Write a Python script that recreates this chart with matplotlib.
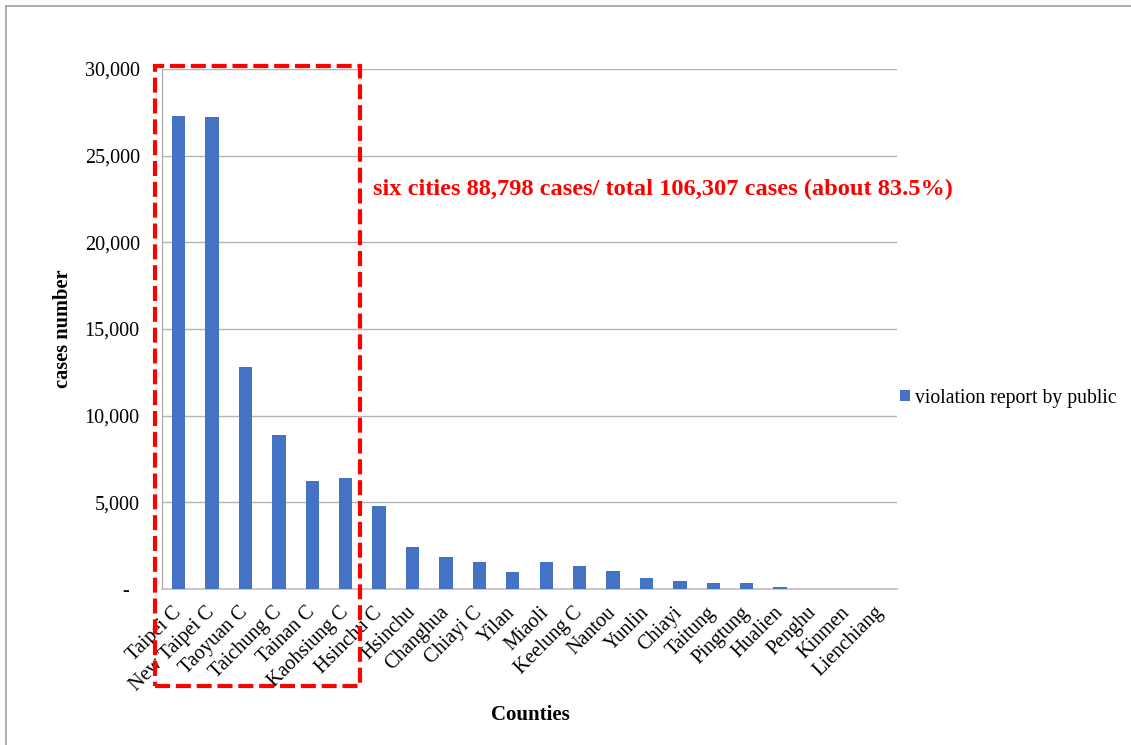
import matplotlib
matplotlib.use("Agg")
import matplotlib.pyplot as plt
from matplotlib.lines import Line2D
from matplotlib.patches import Rectangle
from matplotlib.ticker import FuncFormatter

counties = ["Taipei C", "New Taipei C", "Taoyuan C", "Taichung C", "Tainan C",
            "Kaohsiung C", "Hsinchu C", "Hsinchu", "Changhua", "Chiayi C", "Yilan",
            "Miaoli", "Keelung C", "Nantou", "Yunlin", "Chiayi", "Taitung",
            "Pingtung", "Hualien", "Penghu", "Kinmen", "Lienchiang"]
reports = [27290, 27210, 12790, 8880, 6210, 6418, 4760, 2440, 1835, 1570, 990,
           1565, 1335, 1045, 615, 480, 365, 365, 130, 8, 5, 1]
y_ticks = [0, 5000, 10000, 15000, 20000, 25000, 30000]
series_name = "violation report by public"
note = "six cities 88,798 cases/ total 106,307 cases (about 83.5%)"

plt.rcParams["font.family"] = ["Liberation Serif", "DejaVu Serif"]

W, H = 1131, 745
fig = plt.figure(figsize=(W / 100, H / 100), dpi=100)
ax = fig.add_axes([162 / W, 1 - 589 / H, (897 - 162) / W, (589 - 69) / H])

x = list(range(len(counties)))
ax.bar(x, reports, width=0.4, color="#4472C4", label=series_name, zorder=3)

ax.set_xlim(-0.5, len(counties) - 0.5)
ax.set_ylim(0, 30000)
ax.set_yticks(y_ticks)
ax.yaxis.set_major_formatter(FuncFormatter(lambda v, p: "-  " if v == 0 else f"{int(v):,}"))
ax.grid(axis="y", color="#b3b3b3", linewidth=1.0, zorder=0)
ax.tick_params(axis="y", length=0, pad=16, labelsize=14.5)
ax.tick_params(axis="x", length=0, pad=15, labelsize=14.5)
ax.set_xticks(x)
ax.set_xticklabels(counties, rotation=45, ha="right", va="center", rotation_mode="anchor")
for s in ["top", "right"]:
    ax.spines[s].set_visible(False)
ax.spines["left"].set_color("#a6a6a6")
ax.spines["bottom"].set_color("#bfbfbf")
ax.spines["bottom"].set_linewidth(1.2)

fig.text(63 / W, 1 - 329 / H, "cases number", rotation=90, ha="center", va="center",
         fontsize=14.7, fontweight="bold")
fig.text(530 / W, 1 - 715 / H, "Counties", ha="center", va="center",
         fontsize=15, fontweight="bold")

ax.text(5.82, 23050, note, color="#FF0000", fontsize=17.6, fontweight="bold",
        ha="left", va="center")

# dashed frame around the six special municipalities
box = Rectangle((-0.72, -5600), 6.14, 35770, fill=False, edgecolor="#FF0000",
                linewidth=3, linestyle=(0, (3.6, 1.4)), clip_on=False, zorder=5)
ax.add_patch(box)

leg = fig.legend(loc="center left", bbox_to_anchor=(882 / W, 1 - 398 / H), frameon=False,
                 fontsize=14.2, handlelength=0.5, handleheight=0.5, handletextpad=0.25)

# outer chart frame
fig.add_artist(Line2D([6 / W, 1], [1 - 6 / H, 1 - 6 / H], color="#a0a0a0", linewidth=1.2))
fig.add_artist(Line2D([6 / W, 6 / W], [0, 1 - 6 / H], color="#a0a0a0", linewidth=1.2))

fig.savefig("out.png", dpi=100)
